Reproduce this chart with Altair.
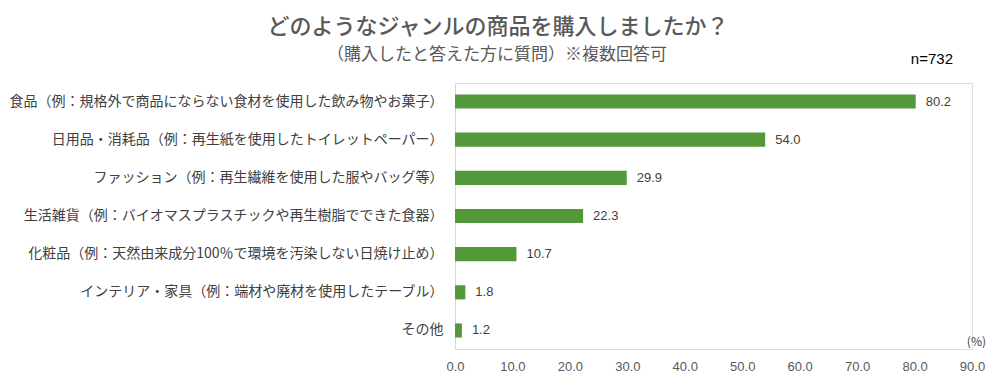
import altair as alt
import pandas as pd

categories = [
    "食品（例：規格外で商品にならない食材を使用した飲み物やお菓子）",
    "日用品・消耗品（例：再生紙を使用したトイレットペーパー）",
    "ファッション（例：再生繊維を使用した服やバッグ等）",
    "生活雑貨（例：バイオマスプラスチックや再生樹脂でできた食器）",
    "化粧品（例：天然由来成分100％で環境を汚染しない日焼け止め）",
    "インテリア・家具（例：端材や廃材を使用したテーブル）",
    "その他",
]
values = [80.2, 54.0, 29.9, 22.3, 10.7, 1.8, 1.2]
tick_values = [0, 10, 20, 30, 40, 50, 60, 70, 80, 90]

title_text = "どのようなジャンルの商品を購入しましたか？"
subtitle_text = "（購入したと答えた方に質問）※複数回答可"
n_text = "n=732"
unit_text = "(%)"

FONT = "Noto Sans CJK JP"
NUMFONT = "Liberation Sans"
df = pd.DataFrame({"cat": categories, "val": values})

W, H = 517, 266

x = alt.X("val:Q", scale=alt.Scale(domain=[0, 90], nice=False),
          axis=alt.Axis(values=tick_values, format=".1f", title=None, grid=False,
                        domain=False, ticks=False, labelFont=NUMFONT, labelFontSize=13,
                        labelColor="#595959", labelPadding=11, labelFlush=False))
y = alt.Y("cat:N", sort=categories,
          scale=alt.Scale(paddingInner=0.63, paddingOuter=0.3),
          axis=alt.Axis(title=None, ticks=False, domain=True, domainColor="#d9d9d9",
                        labelFont=FONT, labelFontSize=14, labelColor="#404040",
                        labelPadding=12, labelLimit=500))

bars = alt.Chart(df).mark_bar(color="#53993a").encode(x=x, y=y)
labels = alt.Chart(df).mark_text(align="left", dx=10, font=NUMFONT, fontSize=13,
                                 color="#404040").encode(
    x="val:Q", y=alt.Y("cat:N", sort=categories), text=alt.Text("val:Q", format=".1f"))

def note(txt, xv, yv, size, color, align="center", font=FONT, weight="normal"):
    return alt.Chart(pd.DataFrame({"t": [txt]})).mark_text(
        font=font, fontSize=size, color=color, align=align, baseline="middle",
        fontWeight=weight).encode(x=alt.value(xv), y=alt.value(yv), text="t:N")

title = note(title_text, 498 - 455, 27.2 - 83, 22, "#595959", weight=500)
subtitle = note(subtitle_text, 497 - 455, 55 - 83, 17, "#595959")
n_note = note(n_text, 953 - 455, 59 - 83, 15, "#000000", align="right", font=NUMFONT)
unit = note(unit_text, 986 - 455, 342 - 83, 12, "#404040", align="right")

chart = alt.layer(bars, labels, title, subtitle, n_note, unit).properties(
    width=W, height=H,
    autosize=alt.AutoSizeParams(type="none"),
    padding={"left": 447, "top": 75, "right": 15, "bottom": 30},
).configure_view(stroke=None).configure(background="white")

chart.save("out.html", embed_options={"renderer": "svg", "actions": False})
